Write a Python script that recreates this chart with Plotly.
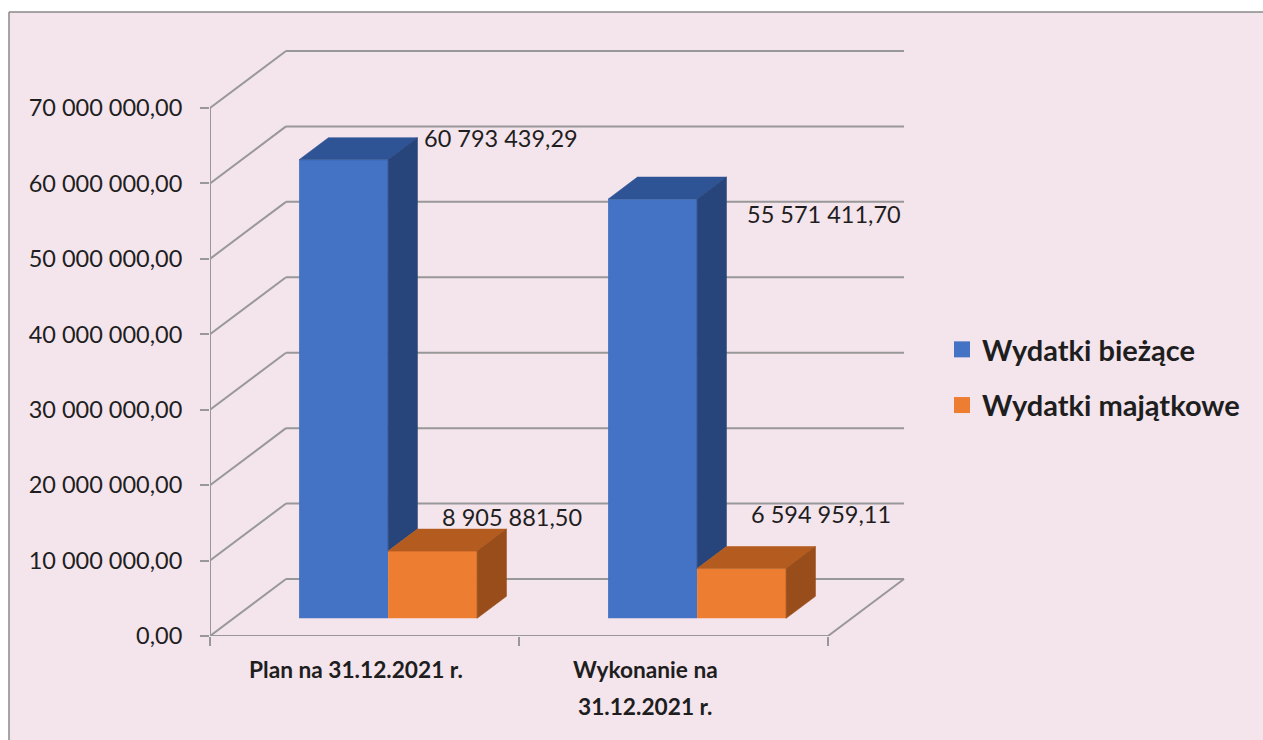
import plotly.graph_objects as go

# ---------------- data ----------------
categories = ["Plan na 31.12.2021 r.", "Wykonanie na 31.12.2021 r."]
category_lines = [["Plan na 31.12.2021 r."], ["Wykonanie na", "31.12.2021 r."]]
series_names = ["Wydatki bieżące", "Wydatki majątkowe"]
wydatki_biezace = [60793439.29, 55571411.70]
wydatki_majatkowe = [8905881.50, 6594959.11]
y_ticks = [0, 10000000, 20000000, 30000000, 40000000, 50000000, 60000000, 70000000]

series_values = [wydatki_biezace, wydatki_majatkowe]

# ---------------- style / geometry ----------------
FRONT = ["#4472C4", "#ED7D31"]
TOP = ["#2E5496", "#B45C20"]
SIDE = ["#27457A", "#984D1A"]
BG = "#F4E4EC"
GRID = "#989898"
TXT = "#1E1E1E"
FONT = "Lato"

PX_X = 309.0            # pixels per category unit
PX_Y = 75.43 / 1e7      # pixels per value unit
DX = 76 / PX_X          # depth offset (x units)
DY = 57 / PX_Y          # depth offset (value units)
W = 89 / PX_X           # bar width
F1, F2 = 0.3105, 0.6965 # bar front / back depth fraction

FIG_W, FIG_H = 1263, 740
L, T, R_PX, B_PX = 210, 40, 910, 636
x_range = [-0.5, -0.5 + (R_PX - L) / PX_X]
y_range = [0, (B_PX - T) / PX_Y]

def fmt(v):
    s = f"{v:,.2f}"
    return s.replace(",", " ").replace(".", ",")

def px2paper_x(px):
    return (px - L) / (R_PX - L)

def px2paper_y(py):
    return (B_PX - py) / (B_PX - T)

fig = go.Figure()

# front faces (bars)
for j, vals in enumerate(series_values):
    xs = [i - W + j * W + W / 2 + F1 * DX for i in range(len(categories))]
    fig.add_trace(go.Bar(
        x=xs, y=vals, base=[F1 * DY] * len(vals), width=[W] * len(vals),
        marker=dict(color=FRONT[j], line=dict(width=0)),
        name=series_names[j], showlegend=False, hoverinfo="skip",
    ))

# top and side faces
for i in range(len(categories)):
    for j, vals in enumerate(series_values):
        v = vals[i]
        xl = i - W + j * W
        xr = xl + W
        fig.add_trace(go.Scatter(
            x=[xl + F1 * DX, xl + F2 * DX, xr + F2 * DX, xr + F1 * DX, xl + F1 * DX],
            y=[v + F1 * DY, v + F2 * DY, v + F2 * DY, v + F1 * DY, v + F1 * DY],
            fill="toself", fillcolor=TOP[j], mode="lines",
            line=dict(width=0.6, color=TOP[j]), showlegend=False, hoverinfo="skip"))
        b = 0
        if j + 1 < len(series_values):
            b = series_values[j + 1][i]
        if b < v:
            fig.add_trace(go.Scatter(
                x=[xr + F1 * DX, xr + F2 * DX, xr + F2 * DX, xr + F1 * DX, xr + F1 * DX],
                y=[b + F1 * DY, b + F2 * DY, v + F2 * DY, v + F1 * DY, b + F1 * DY],
                fill="toself", fillcolor=SIDE[j], mode="lines",
                line=dict(width=0.6, color=SIDE[j]), showlegend=False, hoverinfo="skip"))

# legend entries
for j, name in enumerate(series_names):
    fig.add_trace(go.Scatter(
        x=[None], y=[None], mode="markers", name=name, legendgroup=f"g{j}",
        marker=dict(symbol="square", size=18, color=FRONT[j]), hoverinfo="skip"))

# ---------------- background frame / walls / gridlines ----------------
shapes = []
# white strips outside the chart frame (left and top)
shapes.append(dict(type="rect", xref="paper", yref="paper", layer="below",
                   x0=px2paper_x(-5), x1=px2paper_x(9),
                   y0=px2paper_y(FIG_H + 5), y1=px2paper_y(-5),
                   fillcolor="white", line=dict(width=0)))
shapes.append(dict(type="rect", xref="paper", yref="paper", layer="below",
                   x0=px2paper_x(-5), x1=px2paper_x(FIG_W + 5),
                   y0=px2paper_y(12), y1=px2paper_y(-5),
                   fillcolor="white", line=dict(width=0)))
shapes.append(dict(type="line", xref="paper", yref="paper", layer="below",
                   x0=px2paper_x(9), x1=px2paper_x(FIG_W + 5), y0=px2paper_y(12), y1=px2paper_y(12),
                   line=dict(color="#8A8A8A", width=1.5)))
shapes.append(dict(type="line", xref="paper", yref="paper", layer="below",
                   x0=px2paper_x(9), x1=px2paper_x(9), y0=px2paper_y(12), y1=px2paper_y(FIG_H + 5),
                   line=dict(color="#8A8A8A", width=1.5)))
x0w, x1w = -0.5, -0.5 + len(categories)
for t in y_ticks:
    shapes.append(dict(type="line", xref="x", yref="y", layer="below",
                       x0=x0w, y0=t, x1=x0w + DX, y1=t + DY, line=dict(color=GRID, width=2)))
    shapes.append(dict(type="line", xref="x", yref="y", layer="below",
                       x0=x0w + DX, y0=t + DY, x1=x1w + DX, y1=t + DY, line=dict(color=GRID, width=2)))
shapes.append(dict(type="line", xref="x", yref="y", layer="below",
                   x0=x0w, y0=0, x1=x1w, y1=0, line=dict(color=GRID, width=2)))
shapes.append(dict(type="line", xref="x", yref="y", layer="below",
                   x0=x1w, y0=0, x1=x1w + DX, y1=DY, line=dict(color=GRID, width=2)))
shapes.append(dict(type="line", xref="x", yref="y", layer="below",
                   x0=x0w, y0=0, x1=x0w, y1=y_ticks[-1], line=dict(color=GRID, width=2)))

# ---------------- annotations ----------------
label_pos = [[(0.186, 66.0e6), (0.243, 15.84e6)],
             [(1.231, 55.95e6), (1.244, 16.17e6)]]
annotations = []
for i in range(len(categories)):
    for j, vals in enumerate(series_values):
        lx, ly = label_pos[i][j]
        annotations.append(dict(x=lx, y=ly, xref="x", yref="y", text=fmt(vals[i]),
                                showarrow=False, xanchor="left", yanchor="middle",
                                font=dict(family=FONT, size=23.5, color=TXT)))
cat_x = [-0.0275, 0.9078]
line_y = [669, 706]
for i, lines in enumerate(category_lines):
    for k, ln in enumerate(lines):
        annotations.append(dict(x=cat_x[i], y=px2paper_y(line_y[k]), xref="x", yref="paper",
                                text=f"<b>{ln}</b>", showarrow=False,
                                xanchor="center", yanchor="middle",
                                font=dict(family=FONT, size=22.7, color=TXT)))

fig.update_layout(
    width=FIG_W, height=FIG_H, autosize=False,
    margin=dict(l=L, r=FIG_W - R_PX, t=T, b=FIG_H - B_PX, pad=0),
    paper_bgcolor=BG, plot_bgcolor="rgba(0,0,0,0)",
    barmode="overlay", separators=", ",
    shapes=shapes, annotations=annotations,
    showlegend=True,
    legend=dict(x=px2paper_x(942), y=px2paper_y(324),
                xanchor="left", yanchor="top", bgcolor="rgba(0,0,0,0)",
                traceorder="grouped", tracegroupgap=15,
                font=dict(family=FONT, size=29, color=TXT, weight="bold")),
    xaxis=dict(range=x_range, showgrid=False, zeroline=False, showline=False,
               tickmode="array", tickvals=[-0.5, 0.5, 1.5], ticktext=["", "", ""],
               ticks="outside", ticklen=9, tickwidth=2, tickcolor=GRID, showticklabels=False,
               fixedrange=True),
    yaxis=dict(range=y_range, showgrid=False, zeroline=False, showline=False,
               tickmode="array", tickvals=y_ticks, tickformat=",.2f",
               ticks="outside", ticklen=9, tickwidth=2, tickcolor=GRID,
               ticklabelstandoff=13,
               tickfont=dict(family=FONT, size=23.5, color=TXT), fixedrange=True),
)

fig.write_html(
    "out.html",
    config={"displayModeBar": False},
    post_script=("document.documentElement.style.overflow='hidden';"
                 "document.body.style.margin='0';document.body.style.overflow='hidden';"),
)
